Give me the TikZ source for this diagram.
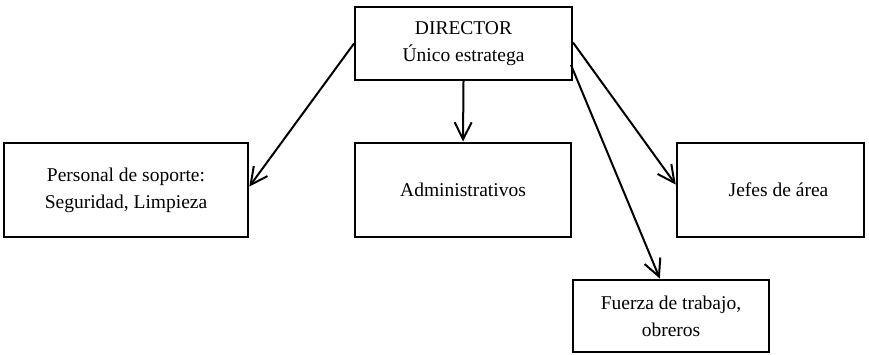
\documentclass[tikz,border=0pt]{standalone}
\usepackage{fontspec}
\setmainfont{Liberation Serif}
\usetikzlibrary{arrows.meta}
\begin{document}
\begin{tikzpicture}[x=1pt,y=-1pt,
  box/.style={draw=black,line width=2pt,fill=white,align=center,
    font=\fontsize{19.5}{27}\selectfont,inner sep=0pt},
  link/.style={line width=2pt,-{Straight Barb[length=17pt,width=17pt,line width=2pt]},shorten >=0.5pt}]
\useasboundingbox (0,0) rectangle (869,355);
% boxes, drawn corner to corner
\node[box,minimum width=217pt,minimum height=73pt] (dir) at (463.5,43.5) {DIRECTOR\\Único estratega};
\node[box,minimum width=244pt,minimum height=94pt] (pers) at (126,190) {Personal de soporte:\\Seguridad, Limpieza};
\node[box,minimum width=216pt,minimum height=94pt] (adm) at (463,190) {Administrativos};
\node[box,minimum width=187pt,minimum height=94pt] (jef) at (770.5,190) {\hspace*{16pt}Jefes de área};
\node[box,minimum width=196pt,minimum height=72pt] (fue) at (671,316) {Fuerza de trabajo,\\obreros};
% connectors
\draw[link] (dir.west) -- ([yshift=3pt]pers.east);
\draw[link] (dir.south) -- (adm.north);
\draw[link] ([yshift=1pt]dir.east) -- ([yshift=5pt]jef.west);
\draw[link] ([yshift=-21.5pt,xshift=-2pt]dir.east) -- ([xshift=-11pt]fue.north);
\end{tikzpicture}
\end{document}
